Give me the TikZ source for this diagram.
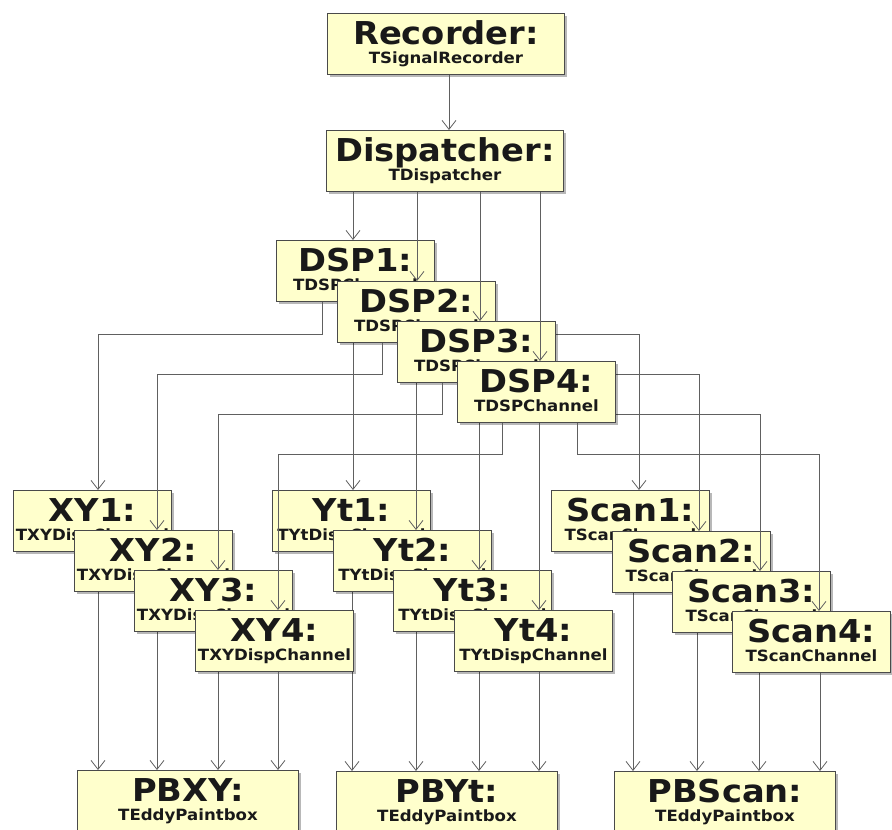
\documentclass[tikz,border=0pt]{standalone}
\usepackage{fontspec}
\setmainfont{DejaVu Sans}[FakeStretch=1.07]
\usetikzlibrary{arrows.meta,shadows,calc}

\definecolor{boxfill}{HTML}{FFFFCC}
\definecolor{edgecol}{HTML}{606060}
\definecolor{framecol}{HTML}{4A4A4A}

\tikzset{
  objbox/.style={draw=framecol, line width=0.9pt, fill=boxfill,
    minimum width=#1, minimum height=61pt, anchor=north west, inner sep=0pt,
    drop shadow={shadow xshift=3pt, shadow yshift=-3pt, fill=black, opacity=0.28}},
  ttl/.style={anchor=base, inner sep=0pt, font=\fontsize{31.5}{32}\selectfont\bfseries, text=black!90},
  sub/.style={anchor=base, inner sep=0pt, font=\fontsize{15.5}{16}\selectfont\bfseries, text=black!90},
  link/.style={draw=edgecol, line width=0.8pt},
  tip/.style={link, -{Straight Barb[length=9pt,width=14pt,line width=0.8pt]}},
}

% object box: name, left, top, width, title, class
\newcommand\umlobj[6]{%
  \node[objbox=#4pt] (#1) at (#2,#3) {};
  \node[ttl] (#1-t) at ($(#1.north)+(0,31)$) {#5};
  \node[sub] (#1-s) at ($(#1.north)+(0,50.5)$) {#6};
}

\begin{document}
\begin{tikzpicture}[x=1pt,y=-1pt]
\useasboundingbox (0,0) rectangle (892,830);

% recorder and dispatcher
\umlobj{rec}{327}{13}{237}{Recorder:}{TSignalRecorder}
\umlobj{disp}{326}{130}{237}{Dispatcher:}{TDispatcher}
\coordinate (c-rec) at (449,0);
\draw[tip] (rec.south -| c-rec) -- (disp.north -| c-rec);

% DSP channels with the upper parts of their outgoing links
\foreach \i/\bx/\by/\fx/\lx/\mx/\rx/\hy/\xx/\sx in {
    1/276/240/353/322/353/396/334/98/639,
    2/337/281/417/382/416/456/374/157/699,
    3/397/321/480/442/479/516/414/218/760,
    4/457/361/540/502/539/577/454/278/819}{
  \umlobj{dsp\i}{\bx}{\by}{158}{DSP\i:}{TDSPChannel}
  \coordinate (feed\i) at (\fx,0);
  \draw[tip] (disp.south -| feed\i) -- (dsp\i.north -| feed\i);
  % to XY
  \coordinate (xa\i) at (\lx,\hy);
  \coordinate (xb\i) at (\xx,\hy);
  \coordinate (xm\i) at (\xx,470);
  \draw[link] (dsp\i.south -| xa\i) -- (xa\i) -- (xb\i) -- (xm\i);
  % to Yt
  \coordinate (ym\i) at (\mx,470);
  \draw[link] (dsp\i.south -| ym\i) -- (ym\i);
  % to Scan
  \coordinate (sa\i) at (\rx,\hy);
  \coordinate (sb\i) at (\sx,\hy);
  \coordinate (sm\i) at (\sx,470);
  \draw[link] (dsp\i.south -| sa\i) -- (sa\i) -- (sb\i) -- (sm\i);
}

% paint boxes
\umlobj{pbxy}{77}{770}{221}{PBXY:}{TEddyPaintbox}
\umlobj{pbyt}{336}{771}{221}{PBYt:}{TEddyPaintbox}
\umlobj{pbscan}{614}{771}{221}{PBScan:}{TEddyPaintbox}

% display channels, row by row
\foreach \i/\ax/\ay/\tx/\ty/\qx/\qy/\yo/\so in {
    1/13/490/272/490/551/490/352/633,
    2/74/530/333/530/612/531/416/697,
    3/134/570/393/570/672/571/479/759,
    4/195/610/454/610/732/611/539/820}{
  \umlobj{xy\i}{\ax}{\ay}{158}{XY\i:}{TXYDispChannel}
  \umlobj{yt\i}{\tx}{\ty}{158}{Yt\i:}{TYtDispChannel}
  \umlobj{scan\i}{\qx}{\qy}{158}{Scan\i:}{TScanChannel}
  \draw[tip] (xm\i) -- (xy\i.north -| xm\i);
  \draw[tip] (ym\i) -- (yt\i.north -| ym\i);
  \draw[tip] (sm\i) -- (scan\i.north -| sm\i);
  \coordinate (yo\i) at (\yo,0);
  \coordinate (so\i) at (\so,0);
  \draw[tip] (xy\i.south -| xm\i) -- (pbxy.north -| xm\i);
  \draw[tip] (yt\i.south -| yo\i) -- (pbyt.north -| yo\i);
  \draw[tip] (scan\i.south -| so\i) -- (pbscan.north -| so\i);
}
\end{tikzpicture}
\end{document}
